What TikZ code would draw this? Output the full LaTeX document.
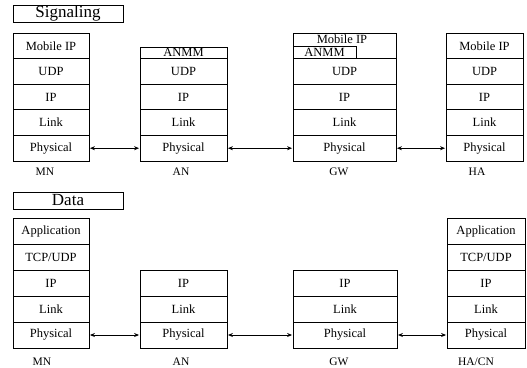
\documentclass[tikz,border=0pt]{standalone}
\usepackage{fontspec}
\setmainfont{Liberation Serif}
\usetikzlibrary{arrows.meta}
\begin{document}
\begin{tikzpicture}[x=1pt,y=-1pt,
  layer/.style={draw,line width=0.8pt,rectangle,inner sep=0pt,font=\fontsize{12.5}{14}\selectfont},
  title/.style={draw,line width=0.8pt,rectangle,inner sep=0pt,minimum width=110pt,minimum height=17pt,font=\fontsize{17}{19}\selectfont},
  lbl/.style={inner sep=0pt,font=\fontsize{11.5}{13}\selectfont},
  link/.style={line width=1pt,{Stealth[length=5pt,width=4pt]}-{Stealth[length=5pt,width=4pt]},shorten <=0.5pt,shorten >=0.5pt}]
\useasboundingbox (0,0) rectangle (527,367);

% ---------------- Signaling ----------------
\node[title] (tsig) at (68,13.5) {Signaling};

% MN
\begin{scope}[every node/.append style={layer,minimum width=76pt,minimum height=25.6pt}]
\node (smn1) at (51,45.8) {Mobile IP};
\node (smn2) at (51,71.4) {UDP};
\node (smn3) at (51,97) {IP};
\node (smn4) at (51,122.6) {Link};
\node (smn5) at (51,148.2) {Physical};
\end{scope}
\node[lbl] (lsmn) at (45,172) {MN};

% AN
\node[layer,minimum width=87pt,minimum height=11.6pt] (san1) at (183.5,52.8) {ANMM};
\begin{scope}[every node/.append style={layer,minimum width=87pt,minimum height=25.6pt}]
\node (san2) at (183.5,71.4) {UDP};
\node (san3) at (183.5,97) {IP};
\node (san4) at (183.5,122.6) {Link};
\node (san5) at (183.5,148.2) {Physical};
\end{scope}
\node[lbl] (lsan) at (181,172) {AN};

% GW
\begin{scope}[every node/.append style={layer,minimum width=103pt,minimum height=25.6pt}]
\node (sgw1) at (344.5,45.8) {};
\node (sgw2) at (344.5,71.4) {UDP};
\node (sgw3) at (344.5,97) {IP};
\node (sgw4) at (344.5,122.6) {Link};
\node (sgw5) at (344.5,148.2) {Physical};
\end{scope}
\node[inner sep=0pt,font=\fontsize{12.5}{14}\selectfont] (sgwm) at (342,39.5) {Mobile IP};
\node[layer,minimum width=63pt,minimum height=12.6pt,anchor=south west] (sgwa) at (sgw1.south west) {ANMM};
\node[lbl] (lsgw) at (339,172) {GW};

% HA
\begin{scope}[every node/.append style={layer,minimum width=77pt,minimum height=25.6pt}]
\node (sha1) at (484.5,45.8) {Mobile IP};
\node (sha2) at (484.5,71.4) {UDP};
\node (sha3) at (484.5,97) {IP};
\node (sha4) at (484.5,122.6) {Link};
\node (sha5) at (484.5,148.2) {Physical};
\end{scope}
\node[lbl] (lsha) at (477,172) {HA};

\draw[link] (smn5.east) -- (san5.west);
\draw[link] (san5.east) -- (sgw5.west);
\draw[link] (sgw5.east) -- (sha5.west);

% ---------------- Data ----------------
\node[title] (tdat) at (68,200.5) {Data};

\begin{scope}[every node/.append style={layer,minimum width=76pt,minimum height=26pt}]
\node (dmn1) at (51,231) {Application};
\node (dmn2) at (51,257) {TCP/UDP};
\node (dmn3) at (51,283) {IP};
\node (dmn4) at (51,309) {Link};
\node (dmn5) at (51,335) {Physical};
\end{scope}
\node[lbl] (ldmn) at (42,362) {MN};

\begin{scope}[every node/.append style={layer,minimum width=87pt,minimum height=26pt}]
\node (dan3) at (183.5,283) {IP};
\node (dan4) at (183.5,309) {Link};
\node (dan5) at (183.5,335) {Physical};
\end{scope}
\node[lbl] (ldan) at (181,362) {AN};

\begin{scope}[every node/.append style={layer,minimum width=104pt,minimum height=26pt}]
\node (dgw3) at (345,283) {IP};
\node (dgw4) at (345,309) {Link};
\node (dgw5) at (345,335) {Physical};
\end{scope}
\node[lbl] (ldgw) at (339,362) {GW};

\begin{scope}[every node/.append style={layer,minimum width=78pt,minimum height=26pt}]
\node (dha1) at (486,231) {Application};
\node (dha2) at (486,257) {TCP/UDP};
\node (dha3) at (486,283) {IP};
\node (dha4) at (486,309) {Link};
\node (dha5) at (486,335) {Physical};
\end{scope}
\node[lbl] (ldha) at (476,362) {HA/CN};

\draw[link] (dmn5.east) -- (dan5.west);
\draw[link] (dan5.east) -- (dgw5.west);
\draw[link] (dgw5.east) -- (dha5.west);
\end{tikzpicture}
\end{document}
